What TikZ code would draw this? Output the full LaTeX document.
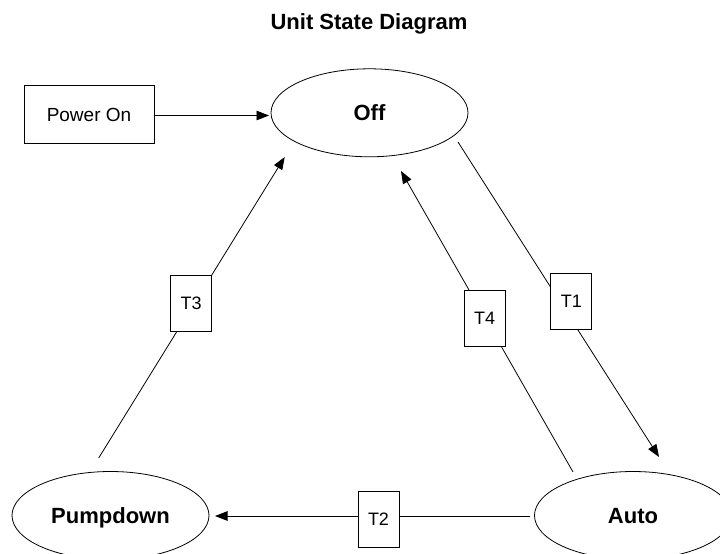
\documentclass[tikz,border=0pt]{standalone}
\usepackage{fontspec}
\setmainfont{Liberation Sans}
\usetikzlibrary{arrows.meta,shapes.geometric}
\begin{document}
\begin{tikzpicture}[x=1pt,y=-1pt,
  state/.style={draw, ellipse, line width=0.8pt, minimum width=197pt, minimum height=88pt, inner sep=0pt, text height=15.6pt, text depth=0pt, font=\fontsize{22}{26}\selectfont\bfseries},
  tbox/.style={draw, fill=white, line width=0.8pt, minimum width=41pt, minimum height=56pt, inner sep=0pt, text height=12.9pt, text depth=0pt, font=\fontsize{18}{22}\selectfont},
  pbox/.style={draw, fill=white, line width=0.8pt, minimum width=130pt, minimum height=58pt, inner sep=0pt, text height=13.6pt, text depth=0pt, font=\fontsize{19}{23}\selectfont},
  conn/.style={line width=0.8pt},
  arr/.style={conn, -{Triangle[length=12.5pt,width=9.5pt]}}]
\useasboundingbox (0,0) rectangle (720,554);
\node[font=\fontsize{22}{26}\selectfont\bfseries, anchor=base] (title) at (369,29.5) {Unit State Diagram};
\node[pbox] (power) at (89,114.5) {Power On};
\node[state] (off) at (369.5,112.8) {Off};
\node[state] (pump) at (110.5,515.5) {Pumpdown};
\node[state] (auto) at (633,515.5) {Auto};
% connector end points
\coordinate (offA) at (269,115.5);
\coordinate (t1s) at (458,142);
\coordinate (t1e) at (659,457);
\coordinate (t4s) at (573,472);
\coordinate (t4e) at (401,171);
\coordinate (t3s) at (98.7,458);
\coordinate (t3e) at (284.7,157);
\coordinate (t2s) at (530,516);
\coordinate (t2e) at (215,516);
\draw[arr] (power.east |- offA) -- (offA);
\draw[arr] (t1s) -- (t1e);
\draw[arr] (t4s) -- (t4e);
\draw[arr] (t3s) -- (t3e);
\draw[arr] (t2s) -- (t2e);
\node[tbox] (t1) at (571.3,301.5) {T1};
\node[tbox] (t2) at (378.5,519) {T2};
\node[tbox] (t3) at (191.2,303.4) {T3};
\node[tbox] (t4) at (484.5,318) {T4};
\end{tikzpicture}
\end{document}
